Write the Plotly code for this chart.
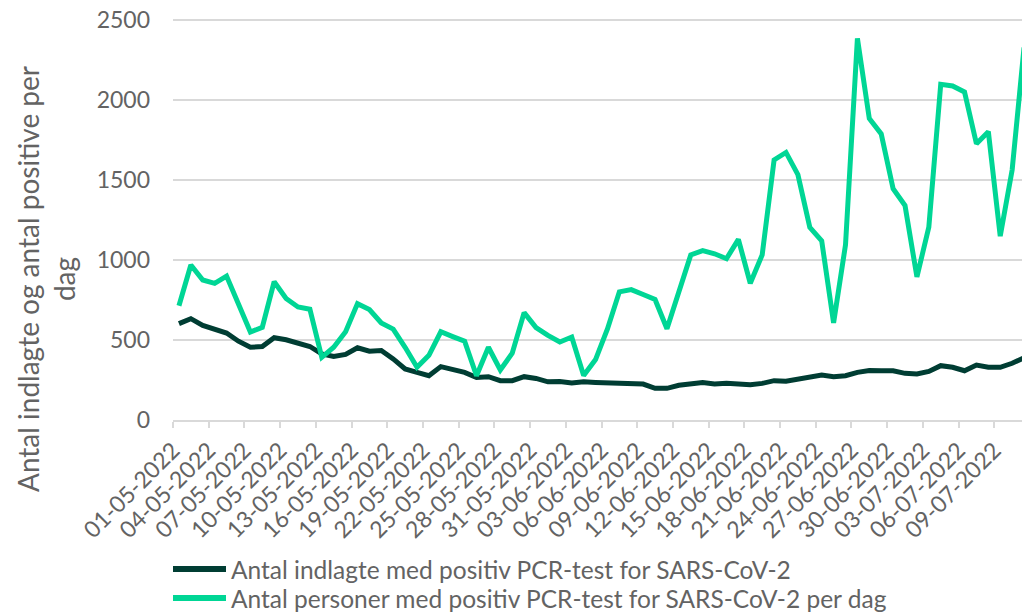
import pandas as pd
import plotly.graph_objects as go

dates = pd.date_range("2022-05-01", "2022-07-11", freq="D").strftime("%d-%m-%Y").tolist()

indlagte = [603, 634, 592, 571, 544, 493, 455, 460, 515, 502,
            480, 460, 414, 397, 410, 452, 430, 435, 382, 319,
            298, 277, 334, 319, 298, 266, 271, 246, 246, 271,
            260, 239, 241, 231, 239, 235, 233, 233, 229, 225,
            198, 198, 217, 229, 235, 225, 230, 226, 221, 229,
            246, 242, 257, 271, 282, 271, 277, 298, 310, 308,
            308, 292, 288, 304, 340, 330, 308, 344, 330, 330,
            355, 389]

positive = [715, 970, 876, 855, 900, 720, 550, 580, 865, 760,
            707, 693, 392, 455, 552, 728, 691, 607, 569, 455,
            330, 405, 552, 522, 493, 277, 455, 313, 418, 672,
            578, 529, 488, 519, 278, 378, 570, 802, 816, 785,
            754, 571, 790, 1033, 1060, 1040, 1009, 1130, 855, 1033,
            1627, 1674, 1535, 1205, 1121, 607, 1096, 2388, 1886, 1790,
            1447, 1342, 895, 1207, 2100, 2090, 2052, 1728, 1804, 1150,
            1565, 2330]

series_names = ["Antal indlagte med positiv PCR-test for SARS-CoV-2",
                "Antal personer med positiv PCR-test for SARS-CoV-2 per dag"]
y_title = "Antal indlagte og antal positive per<br>dag"
y_ticks = [0, 500, 1000, 1500, 2000, 2500]

x = list(range(len(dates)))
tick_idx = list(range(0, len(dates), 3))
tickvals = [i - 0.5 for i in tick_idx]
ticktext = [dates[i] for i in tick_idx]

FONT = "Lato"
GRAY = "#636363"
DARK = "#003d33"
LIGHT = "#00d695"
colors = [DARK, LIGHT]

# the page body has an 8px margin; compensate so the chart sits where the original does
OFF = 8
FIG_W, FIG_H = 1030 - OFF, 612 - OFF
W, H = 857, 402           # plot area size
L, T = 173 - OFF, 18 - OFF  # plot area offset inside the figure
Y_MAX = 2515

fig = go.Figure()
for name, vals, col in zip(series_names, [indlagte, positive], colors):
    fig.add_trace(go.Scatter(x=x, y=vals, mode="lines", name=name,
                             line=dict(color=col, width=5)))

def px_x(p):  # page pixel -> paper x
    return (p - OFF - L) / W
def px_y(p):  # page pixel -> paper y
    return (T + H - (p - OFF)) / H

shapes = []
annotations = [dict(text=y_title, textangle=-90, xref="paper", yref="paper",
                    x=px_x(46), y=px_y(279), xanchor="center", yanchor="middle",
                    showarrow=False, font=dict(size=28, color=GRAY, family=FONT))]
for k, (name, col) in enumerate(zip(series_names, colors)):
    yy = px_y(569 + 29 * k)
    shapes.append(dict(type="line", xref="paper", yref="paper",
                       x0=px_x(173), x1=px_x(226), y0=yy, y1=yy,
                       line=dict(color=col, width=6)))
    annotations.append(dict(text=name, xref="paper", yref="paper",
                            x=px_x(229), y=yy, xanchor="left", yanchor="middle",
                            showarrow=False, font=dict(size=24.5, color=GRAY, family=FONT)))

fig.update_layout(
    width=FIG_W, height=FIG_H,
    margin=dict(l=L, r=FIG_W - L - W, t=T, b=FIG_H - T - H, autoexpand=False),
    plot_bgcolor="white", paper_bgcolor="white",
    font=dict(family=FONT, color=GRAY, size=20),
    showlegend=False,
    shapes=shapes,
    annotations=annotations,
)
fig.update_xaxes(range=[-0.5, len(dates) - 0.5], tickmode="array",
                 tickvals=tickvals, ticktext=ticktext, tickangle=-45,
                 showgrid=False, zeroline=False, showline=True,
                 linecolor="#d9d9d9", linewidth=1.5, automargin=False,
                 ticks="outside", ticklen=6, tickcolor="#d9d9d9", tickwidth=1.5,
                 ticklabeloverflow="allow",
                 tickfont=dict(size=23, color=GRAY))
fig.update_yaxes(range=[0, Y_MAX], tickmode="array", tickvals=y_ticks,
                 showgrid=True, gridcolor="#d9d9d9", gridwidth=1.5,
                 zeroline=False, showline=False, ticks="", automargin=False,
                 ticklabeloverflow="allow",
                 ticklabelstandoff=22, tickfont=dict(size=23, color=GRAY))

fig.write_html("out.html")
